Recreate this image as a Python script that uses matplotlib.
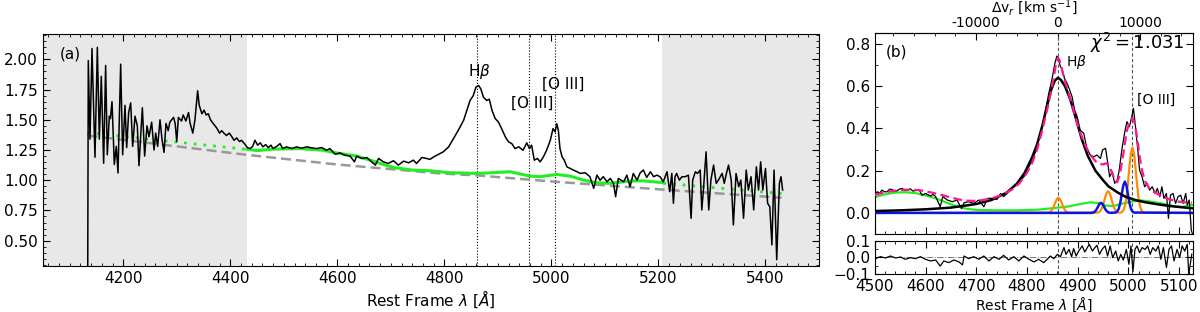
import matplotlib
matplotlib.use("Agg")
import matplotlib.pyplot as plt
from matplotlib.ticker import MultipleLocator, AutoMinorLocator, FormatStrFormatter

# ---------------- panel (a): observed spectrum ----------------
wave_a = [4133.5, 4134.7, 4137.9, 4141.6, 4147.2, 4151.6, 4155.3, 4159.0, 4163.4, 4167.1,
          4170.2, 4174.0, 4176.0, 4179.0, 4183.3, 4187.0, 4190.2, 4195.2, 4198.9, 4203.3,
          4206.4, 4210.1, 4213.9, 4217.6, 4222.0, 4226.3, 4229.4, 4235.7, 4240.0, 4244.4,
          4248.1, 4253.1, 4257.5, 4260.6, 4264.3, 4268.7, 4272.4, 4276.2, 4279.9,
          4284, 4287, 4294, 4297, 4300, 4303, 4309, 4312, 4317, 4322, 4325, 4330, 4334,
          4339, 4342, 4347, 4351, 4355, 4359, 4363, 4368, 4375, 4380, 4384, 4388, 4393,
          4398, 4403, 4407, 4412, 4417, 4421, 4427, 4432,
          4437, 4442, 4446, 4451, 4456, 4461, 4466, 4471, 4476, 4480, 4487, 4493, 4498,
          4505, 4515, 4524, 4533, 4543, 4552, 4561, 4571, 4580, 4586, 4596, 4605, 4614,
          4624, 4632, 4636, 4646, 4655, 4664, 4671, 4677, 4686, 4695, 4705, 4714, 4724,
          4733, 4742, 4748, 4758, 4767,
          4773, 4780, 4786, 4792, 4798, 4808, 4817, 4826, 4836, 4842, 4848, 4854, 4859,
          4864, 4868, 4873, 4879, 4884, 4889, 4895, 4901, 4907, 4914, 4920, 4926, 4932,
          4939, 4947, 4954, 4959, 4963, 4968, 4974, 4979, 4985, 4991, 4998, 5003, 5007,
          5010, 5013, 5016, 5020, 5024, 5029, 5035, 5041, 5048, 5054, 5063, 5072, 5079,
          5085, 5091, 5097, 5104, 5110, 5116, 5120, 5125,
          5135, 5141, 5147, 5153, 5160, 5166, 5172, 5178, 5185, 5191, 5197, 5203, 5209,
          5216, 5221, 5225, 5228, 5231, 5234, 5239, 5244, 5250, 5256, 5261, 5264, 5269,
          5273, 5278, 5281, 5284, 5289, 5294, 5298, 5303, 5308, 5312, 5319, 5323, 5327,
          5331, 5336, 5340, 5345, 5350, 5354, 5359, 5364, 5368, 5373, 5378, 5383, 5387,
          5391, 5395, 5400, 5404, 5408, 5412, 5416, 5421, 5426, 5429, 5432]
flux_a = [0.0, 1.99, 1.34, 2.09, 1.19, 2.10, 1.34, 1.86, 1.14, 1.95,
          1.21, 1.53, 1.51, 1.65, 1.13, 1.28, 1.06, 1.96, 1.21, 1.62,
          1.27, 1.56, 1.64, 1.28, 1.53, 1.45, 1.12, 1.60, 1.20, 1.45,
          1.36, 1.48, 1.25, 1.39, 1.28, 1.50, 1.34, 1.23, 1.47,
          1.41, 1.48, 1.52, 1.47, 1.32, 1.52, 1.49, 1.54, 1.49, 1.56, 1.47, 1.39, 1.50,
          1.74, 1.62, 1.55, 1.58, 1.54, 1.55, 1.50, 1.47, 1.43, 1.39, 1.41, 1.39, 1.37,
          1.39, 1.36, 1.33, 1.35, 1.32, 1.33, 1.30, 1.27,
          1.262, 1.281, 1.331, 1.290, 1.309, 1.276, 1.295, 1.270, 1.290, 1.262, 1.281, 1.303, 1.262,
          1.276, 1.262, 1.276, 1.265, 1.276, 1.268, 1.262, 1.270, 1.248, 1.262, 1.215, 1.226, 1.207,
          1.199, 1.152, 1.199, 1.180, 1.188, 1.152, 1.125, 1.180, 1.152, 1.139, 1.161, 1.125, 1.158,
          1.144, 1.166, 1.139, 1.188, 1.180,
          1.172, 1.193, 1.207, 1.220, 1.235, 1.276, 1.345, 1.413, 1.496, 1.578, 1.660, 1.700, 1.770,
          1.784, 1.757, 1.688, 1.660, 1.670, 1.578, 1.510, 1.482, 1.427, 1.358, 1.317, 1.303, 1.262,
          1.276, 1.248, 1.309, 1.262, 1.290, 1.166, 1.180, 1.152, 1.193, 1.248, 1.331, 1.427, 1.400,
          1.468, 1.413, 1.262, 1.193, 1.166, 1.111, 1.097, 1.084, 1.070, 1.056, 1.062, 1.029, 0.933,
          1.042, 1.000, 1.029, 0.987, 1.015, 0.974, 0.864, 1.015,
          0.987, 1.042, 0.946, 1.056, 1.001, 1.062, 1.084, 1.023, 1.070, 1.029, 1.042, 1.029, 0.987,
          1.070, 0.905, 1.056, 0.809, 1.029, 1.056, 1.001, 1.029, 1.029, 1.042, 0.685, 1.001, 1.070,
          1.056, 1.084, 0.754, 0.919, 1.235, 0.754, 1.001, 1.125, 0.974, 1.001, 1.056, 0.974, 1.056,
          1.125, 1.001, 0.630, 1.056, 0.946, 1.001, 0.685, 1.084, 0.919, 1.029, 0.754, 1.111, 0.919,
          1.152, 0.919, 1.097, 0.809, 0.781, 0.465, 1.084, 0.342, 0.974, 1.029, 0.919]

# power-law continuum
pl_wave = [4133, 4300, 4431, 4600, 4792, 4861, 5000, 5200, 5430]
pl_flux = [1.37, 1.28, 1.21, 1.13, 1.056, 1.04, 0.99, 0.925, 0.855]

# power law + Fe II, inside the fit window
fe_wave = [4431, 4450, 4480, 4530, 4573, 4598, 4636, 4667, 4690, 4708, 4740, 4773, 4810,
           4864, 4923, 4960, 4979, 5010, 5035, 5060, 5085, 5109, 5147, 5170, 5209]
fe_flux = [1.257, 1.245, 1.257, 1.262, 1.248, 1.226, 1.200, 1.158, 1.125, 1.103, 1.084,
           1.078, 1.062, 1.056, 1.070, 1.034, 1.029, 1.048, 1.034, 1.001, 0.979, 0.974,
           0.993, 0.995, 0.980]
# ... and extrapolated outside of it
fe_left_wave = [4133, 4280, 4431]
fe_left_flux = [1.395, 1.325, 1.255]
fe_right_wave = [5209, 5430]
fe_right_flux = [0.975, 0.890]

fit_window = (4432, 5207)
line_waves = [4861, 4959, 5007]

# ---------------- panel (b): continuum-subtracted fit ----------------
wave_b = [4500, 4505, 4510, 4514, 4519, 4524, 4529, 4534, 4539, 4544, 4549, 4554, 4559,
          4564, 4570, 4575, 4580, 4587, 4593, 4600, 4605, 4610, 4615, 4620, 4629, 4634,
          4643, 4653, 4662, 4671, 4676, 4685, 4695, 4705, 4715, 4722, 4731, 4741, 4748,
          4754, 4761, 4768, 4774, 4781, 4787, 4794, 4800, 4804, 4810, 4817, 4823, 4830,
          4836, 4843, 4849, 4855, 4859, 4862, 4866, 4869, 4874, 4879, 4883, 4889, 4894,
          4899, 4905, 4912, 4918, 4925, 4932, 4938, 4945, 4949, 4955, 4959, 4963, 4968,
          4973, 4978, 4982, 4987, 4993, 4997, 5002, 5006, 5010, 5014, 5018, 5022, 5027,
          5032, 5037, 5042, 5047, 5053, 5057, 5062, 5066, 5070, 5075, 5079, 5083, 5088,
          5093, 5098, 5103, 5108, 5113, 5116, 5120, 5124, 5126]
flux_b = [0.092, 0.100, 0.094, 0.108, 0.100, 0.100, 0.112, 0.111, 0.103, 0.105, 0.113, 0.116, 0.106,
          0.108, 0.114, 0.104, 0.105, 0.111, 0.084, 0.092, 0.086, 0.080, 0.088, 0.077, 0.029, 0.077,
          0.061, 0.053, 0.061, 0.021, 0.048, 0.053, 0.045, 0.061, 0.029, 0.069, 0.069, 0.064, 0.092,
          0.077, 0.092, 0.111, 0.124, 0.140, 0.155, 0.171, 0.203, 0.219, 0.250, 0.290, 0.345, 0.408,
          0.479, 0.566, 0.629, 0.708, 0.743, 0.732, 0.693, 0.685, 0.637, 0.614, 0.590, 0.550, 0.487,
          0.456, 0.392, 0.377, 0.306, 0.274, 0.266, 0.274, 0.258, 0.298, 0.306, 0.242, 0.171, 0.195,
          0.140, 0.155, 0.203, 0.298, 0.385, 0.432, 0.408, 0.448, 0.495, 0.408, 0.313, 0.203, 0.171,
          0.124, 0.140, 0.108, 0.124, 0.092, 0.116, 0.077, 0.124, 0.069, 0.092, -0.026, 0.084, 0.092,
          0.045, 0.077, 0.084, 0.045, 0.092, 0.037, 0.061, -0.081, -0.097]

# broad H-beta
broad_wave = [4500, 4550, 4600, 4650, 4700, 4730, 4760, 4780, 4795, 4810, 4820, 4830, 4840,
              4848, 4855, 4861, 4867, 4875, 4885, 4895, 4908, 4920, 4935, 4950, 4961, 4980,
              4994, 5015, 5034, 5060, 5080, 5100, 5125]
broad_flux = [0.009, 0.012, 0.017, 0.025, 0.042, 0.061, 0.096, 0.138, 0.188, 0.262, 0.325,
              0.410, 0.510, 0.585, 0.627, 0.640, 0.630, 0.600, 0.540, 0.460, 0.350, 0.270,
              0.200, 0.155, 0.125, 0.095, 0.077, 0.060, 0.050, 0.040, 0.033, 0.028, 0.022]

# total model
model_wave = [4500, 4515, 4530, 4545, 4560, 4575, 4590, 4605, 4620, 4635, 4650, 4665, 4680,
              4695, 4710, 4725, 4740, 4755, 4770, 4785, 4800, 4810, 4820, 4830, 4840, 4848,
              4854, 4858, 4861, 4864, 4868, 4874, 4880, 4888, 4896, 4905, 4915, 4925, 4935,
              4943, 4950, 4957, 4962, 4968, 4974, 4978, 4983, 4990, 4997, 5003, 5008, 5012,
              5017, 5022, 5027, 5033, 5040, 5050, 5065, 5080, 5095, 5110, 5125]
model_flux = [0.085, 0.095, 0.102, 0.107, 0.110, 0.110, 0.107, 0.100, 0.092, 0.083, 0.073,
              0.064, 0.058, 0.057, 0.060, 0.066, 0.076, 0.090, 0.110, 0.140, 0.190, 0.235,
              0.300, 0.390, 0.490, 0.580, 0.660, 0.715, 0.735, 0.725, 0.690, 0.630, 0.585,
              0.520, 0.450, 0.380, 0.320, 0.275, 0.245, 0.232, 0.230, 0.235, 0.222, 0.190,
              0.150, 0.145, 0.180, 0.280, 0.390, 0.435, 0.450, 0.430, 0.360, 0.270, 0.200,
              0.150, 0.120, 0.100, 0.080, 0.065, 0.055, 0.050, 0.048]

# Fe II template
feii_wave = [4500, 4520, 4540, 4560, 4580, 4600, 4620, 4640, 4660, 4680, 4700, 4740, 4780,
             4820, 4850, 4880, 4905, 4925, 4940, 4955, 4970, 4990, 5010, 5022, 5040, 5065,
             5090, 5105, 5125]
feii_flux = [0.075, 0.088, 0.096, 0.098, 0.094, 0.083, 0.069, 0.050, 0.032, 0.020, 0.014,
             0.012, 0.012, 0.015, 0.022, 0.030, 0.042, 0.050, 0.047, 0.035, 0.032, 0.045,
             0.055, 0.060, 0.055, 0.045, 0.032, 0.028, 0.037]

# narrow H-beta, [O III] 4959, [O III] 5007
narrow_wave = [4500,
               4841, 4844, 4847, 4850, 4853, 4856, 4859, 4862, 4865, 4868, 4871, 4874, 4877, 4880, 4883,
               4939, 4942, 4945, 4948, 4951, 4954, 4957, 4960, 4963, 4966, 4969, 4972, 4975, 4978, 4981,
               4984, 4987, 4990, 4993, 4996, 4999, 5002, 5005, 5008, 5011, 5014, 5017, 5020,
               5023, 5026, 5029, 5032,
               5125]
narrow_flux = [0.0,
               0.0008, 0.0026, 0.0072, 0.0166, 0.0315, 0.0499, 0.0657, 0.072, 0.0657, 0.0499,
               0.0315, 0.0166, 0.0072, 0.0026, 0.0008,
               0.0011, 0.0037, 0.0103, 0.0237, 0.045, 0.0714, 0.094, 0.103, 0.094, 0.0714,
               0.045, 0.0237, 0.0103, 0.0037, 0.0011,
               0.0009, 0.0034, 0.0115, 0.031, 0.0714, 0.136, 0.215, 0.283, 0.310, 0.283, 0.215,
               0.136, 0.0714, 0.031, 0.0115, 0.0034, 0.0009,
               0.0]

# blue-shifted [O III] wings
wing_wave = [4500, 4925,
             4928, 4931, 4934, 4937, 4940, 4943, 4946, 4949, 4952, 4955, 4958, 4961, 4964,
             4975, 4978, 4981, 4984, 4987, 4990, 4993, 4996, 4999, 5002, 5005, 5008, 5011,
             5125]
wing_flux = [0.0, 0.0,
             0.0005, 0.0021, 0.0065, 0.0156, 0.0291, 0.0424, 0.048, 0.0424, 0.0291, 0.0156,
             0.0065, 0.0021, 0.0005,
             0.0016, 0.0065, 0.020, 0.0481, 0.0898, 0.1307, 0.148, 0.1307, 0.0898, 0.0481,
             0.020, 0.0065, 0.0016,
             0.0]

# residuals
res_wave = [4501, 4511, 4521, 4531, 4541, 4551, 4560, 4570, 4580, 4590, 4600, 4610, 4620,
            4629, 4636, 4646, 4656, 4666, 4673, 4676, 4685, 4695, 4705, 4715, 4725, 4735,
            4745, 4754, 4764, 4774, 4784, 4794, 4804, 4814, 4823, 4833, 4840, 4846, 4853,
            4860, 4866, 4873, 4877, 4883, 4888, 4892, 4897, 4902, 4909, 4914, 4919, 4923,
            4929, 4934, 4938, 4943, 4948, 4954, 4959, 4964, 4969, 4975, 4980, 4985, 4990,
            4996, 5001, 5005, 5009, 5013, 5017, 5022, 5027, 5033, 5038, 5043, 5048, 5054,
            5059, 5064, 5069, 5075, 5080, 5085, 5090, 5096, 5101, 5106, 5111, 5116, 5119, 5125]
res_flux = [-0.007, 0.005, -0.003, 0.009, -0.003, 0.003, -0.011, -0.001, -0.007, 0.005, -0.011,
            -0.021, -0.015, -0.052, -0.021, -0.031, -0.015, -0.027, -0.045, 0.009, -0.007, 0.005,
            -0.011, 0.009, -0.021, 0.005, -0.011, 0.013, -0.015, 0.005, -0.021, 0.009, -0.011,
            -0.027, -0.011, -0.031, -0.011, 0.009, -0.007, 0.019, 0.005, 0.060, 0.019, 0.049,
            0.005, 0.054, 0.009, 0.039, 0.070, 0.033, 0.060, 0.080, 0.039, 0.060, 0.074, 0.019,
            0.049, 0.070, 0.009, 0.070, -0.001, 0.039, -0.021, 0.019, -0.015, 0.049, -0.041,
            0.070, -0.085, 0.049, 0.070, 0.029, 0.060, 0.049, 0.070, 0.019, 0.060, 0.039, 0.070,
            -0.011, 0.060, -0.060, 0.049, 0.070, -0.021, 0.049, -0.001, 0.070, 0.039, 0.080,
            -0.102, 0.02]

C_KMS = 299792.458
HB = 4861.0
vel_ticks = [-10000, 0, 10000]
vel_labels = ['-10000', '0', '10000']
chi2_text = r'$\chi^2 = 1.031$'

plt.rcParams['font.size'] = 10
plt.rcParams['xtick.direction'] = 'in'
plt.rcParams['ytick.direction'] = 'in'

fig = plt.figure(figsize=(12, 3.12), dpi=100)
ax_a = fig.add_axes([0.0358, 0.1474, 0.6467, 0.7436])
ax_b = fig.add_axes([0.729, 0.25, 0.265, 0.644])
ax_r = fig.add_axes([0.729, 0.1218, 0.265, 0.1058], sharex=ax_b)

# ---- (a) ----
ax_a.axvspan(4050, fit_window[0], color='#e8e8e8', lw=0, zorder=0)
ax_a.axvspan(fit_window[1], 5500, color='#e8e8e8', lw=0, zorder=0)
for lw_ in line_waves:
    ax_a.axvline(lw_, color='k', ls=':', lw=0.8, zorder=1)
ax_a.plot(pl_wave, pl_flux, color='#999999', ls=(0, (4, 2)), lw=1.8, zorder=2)
ax_a.plot(fe_left_wave, fe_left_flux, color='#22ee22', ls=(0, (1, 2.5)), lw=2, zorder=3)
ax_a.plot(fe_right_wave, fe_right_flux, color='#22ee22', ls=(0, (1, 2.5)), lw=2, zorder=3)
ax_a.plot(fe_wave, fe_flux, color='#22ee22', lw=2.2, zorder=3)
ax_a.plot(wave_a, flux_a, color='k', lw=1.1, zorder=4)
ax_a.text(4866, 1.90, r'H$\beta$', ha='center', va='center', fontsize=11)
ax_a.text(4965, 1.64, '[O III]', ha='center', va='center', fontsize=11)
ax_a.text(5022, 1.79, '[O III]', ha='center', va='center', fontsize=11)
ax_a.text(0.021, 0.914, '(a)', transform=ax_a.transAxes, ha='left', va='center', fontsize=11)
ax_a.set_xlim(4050, 5500)
ax_a.set_ylim(0.29, 2.21)
ax_a.xaxis.set_major_locator(MultipleLocator(200))
ax_a.xaxis.set_minor_locator(MultipleLocator(20))
ax_a.yaxis.set_major_locator(MultipleLocator(0.25))
ax_a.yaxis.set_minor_locator(MultipleLocator(0.05))
ax_a.yaxis.set_major_formatter(FormatStrFormatter('%.2f'))
ax_a.tick_params(which='both', top=True, right=True, labelsize=11)
ax_a.tick_params(which='major', length=5)
ax_a.tick_params(which='minor', length=2.5)
ax_a.set_xlabel(r'Rest Frame $\lambda$ [$\AA$]', labelpad=2, fontsize=11)

# ---- (b) ----
for lw_ in (line_waves[0], line_waves[2]):
    ax_b.axvline(lw_, color='#555555', ls=(0, (3, 2)), lw=0.8, zorder=1)
    ax_r.axvline(lw_, color='#555555', ls=(0, (3, 2)), lw=0.8, zorder=1)
ax_b.plot(feii_wave, feii_flux, color='#22ee22', lw=1.6, zorder=2)
ax_b.plot(narrow_wave, narrow_flux, color='darkorange', lw=1.6, zorder=2)
ax_b.plot(wing_wave, wing_flux, color='#0a14e6', lw=1.8, zorder=3)
ax_b.plot(broad_wave, broad_flux, color='k', lw=1.8, zorder=3)
ax_b.plot(wave_b, flux_b, color='k', lw=0.9, zorder=4)
ax_b.plot(model_wave, model_flux, color='#ff1493', ls=(0, (4, 2)), lw=1.6, zorder=5)
ax_b.text(4877, 0.716, r'H$\beta$', ha='left', va='center')
ax_b.text(5016, 0.535, '[O III]', ha='left', va='center')
ax_b.text(0.975, 0.95, chi2_text, transform=ax_b.transAxes, ha='right', va='center', fontsize=13)
ax_b.text(0.035, 0.905, '(b)', transform=ax_b.transAxes, ha='left', va='center', fontsize=11)
ax_b.set_xlim(4500, 5127)
ax_b.set_ylim(-0.1, 0.852)
ax_b.xaxis.set_major_locator(MultipleLocator(100))
ax_b.xaxis.set_minor_locator(MultipleLocator(20))
ax_b.yaxis.set_major_locator(MultipleLocator(0.2))
ax_b.yaxis.set_minor_locator(MultipleLocator(0.1))
ax_b.tick_params(which='both', right=True, labelbottom=False, labelsize=11)
ax_b.tick_params(which='major', length=5)
ax_b.tick_params(which='minor', length=2.5)

top = ax_b.secondary_xaxis('top', functions=(lambda w: (w - HB) / HB * C_KMS,
                                             lambda v: HB * (1 + v / C_KMS)))
top.set_xticks(vel_ticks)
top.set_xticklabels(vel_labels)
top.xaxis.set_minor_locator(AutoMinorLocator(4))
top.tick_params(which='major', direction='in', length=5, pad=2, labelsize=10)
top.tick_params(which='minor', direction='in', length=2.5)
top.set_xlabel(r'$\Delta$v$_r$ [km s$^{-1}$]', fontsize=10)
top.xaxis.set_label_coords(0.5, 1.125, transform=ax_b.transAxes)
top.xaxis.label.set_va('center')

# ---- residuals ----
ax_r.axhline(0, color='#777777', ls='-.', lw=0.7, zorder=1)
ax_r.plot(res_wave, res_flux, color='k', lw=0.9, zorder=3)
ax_r.set_ylim(-0.1, 0.1)
ax_r.set_yticks([-0.1, 0.0, 0.1])
ax_r.yaxis.set_minor_locator(MultipleLocator(0.05))
ax_r.tick_params(which='both', top=True, right=True, labelsize=11)
ax_r.tick_params(which='major', length=5)
ax_r.tick_params(which='minor', length=2.5)
ax_r.set_xlabel(r'Rest Frame $\lambda$ [$\AA$]', labelpad=1, fontsize=10)

fig.savefig('out.png', dpi=100)
